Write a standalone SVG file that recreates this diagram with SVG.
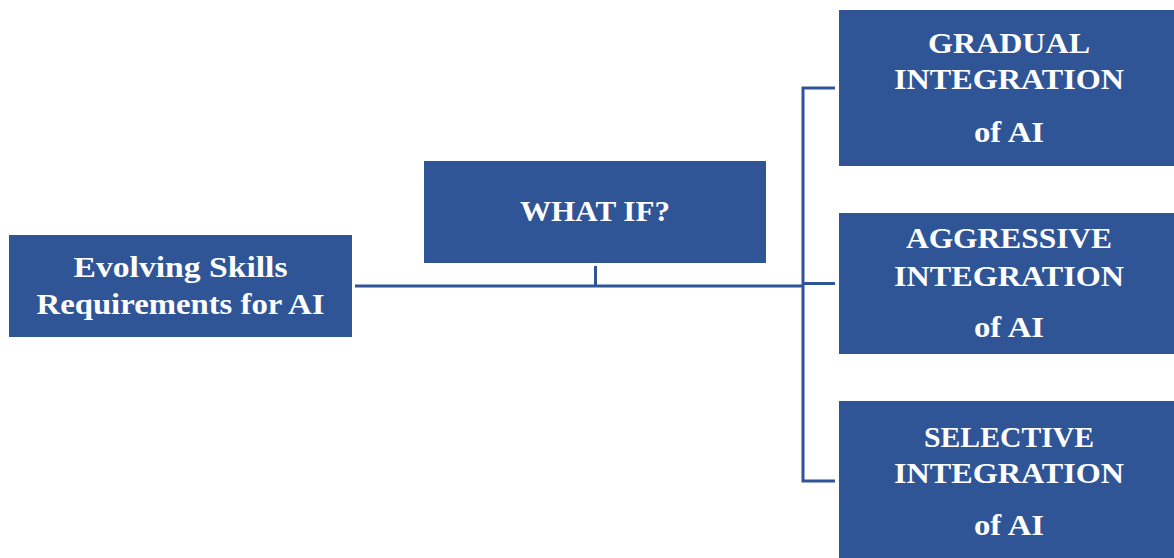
<svg xmlns="http://www.w3.org/2000/svg" width="1174" height="558" viewBox="0 0 1174 558">
<style>
.box{fill:#2F5597;}
.t{font-family:"Liberation Serif","Times New Roman",serif;font-weight:bold;font-size:30px;fill:#ffffff;text-anchor:middle;}
.c{stroke:#2F5597;stroke-width:3;fill:none;}
</style>
<rect width="1174" height="558" fill="#ffffff"/>
<g id="connectors">
<line class="c" x1="355" y1="286" x2="803" y2="286"/>
<line class="c" x1="595.5" y1="266" x2="595.5" y2="286"/>
<polyline class="c" points="835,88 803,88 803,481 835,481"/>
<line class="c" x1="803" y1="283.5" x2="835" y2="283.5"/>
</g>
<g id="node-evolving">
<rect class="box" x="9" y="235" width="343" height="102"/>
<text class="t" x="180.5" y="277" textLength="214" lengthAdjust="spacingAndGlyphs">Evolving Skills</text>
<text class="t" x="180.5" y="314" textLength="288" lengthAdjust="spacingAndGlyphs">Requirements for AI</text>
</g>
<g id="node-whatif">
<rect class="box" x="424" y="161" width="342" height="102"/>
<text class="t" x="595" y="221" textLength="150" lengthAdjust="spacingAndGlyphs">WHAT IF?</text>
</g>
<g id="node-gradual">
<rect class="box" x="839" y="10" width="335" height="156"/>
<text class="t" x="1009" y="53" textLength="162" lengthAdjust="spacingAndGlyphs">GRADUAL</text>
<text class="t" x="1009" y="89" textLength="230" lengthAdjust="spacingAndGlyphs">INTEGRATION</text>
<text class="t" x="1009" y="142" textLength="70" lengthAdjust="spacingAndGlyphs">of AI</text>
</g>
<g id="node-aggressive">
<rect class="box" x="839" y="213" width="335" height="141"/>
<text class="t" x="1009" y="248" textLength="206" lengthAdjust="spacingAndGlyphs">AGGRESSIVE</text>
<text class="t" x="1009" y="286" textLength="230" lengthAdjust="spacingAndGlyphs">INTEGRATION</text>
<text class="t" x="1009" y="337" textLength="70" lengthAdjust="spacingAndGlyphs">of AI</text>
</g>
<g id="node-selective">
<rect class="box" x="839" y="401" width="335" height="157"/>
<text class="t" x="1009" y="447" textLength="170" lengthAdjust="spacingAndGlyphs">SELECTIVE</text>
<text class="t" x="1009" y="483" textLength="230" lengthAdjust="spacingAndGlyphs">INTEGRATION</text>
<text class="t" x="1009" y="535" textLength="70" lengthAdjust="spacingAndGlyphs">of AI</text>
</g>
</svg>
